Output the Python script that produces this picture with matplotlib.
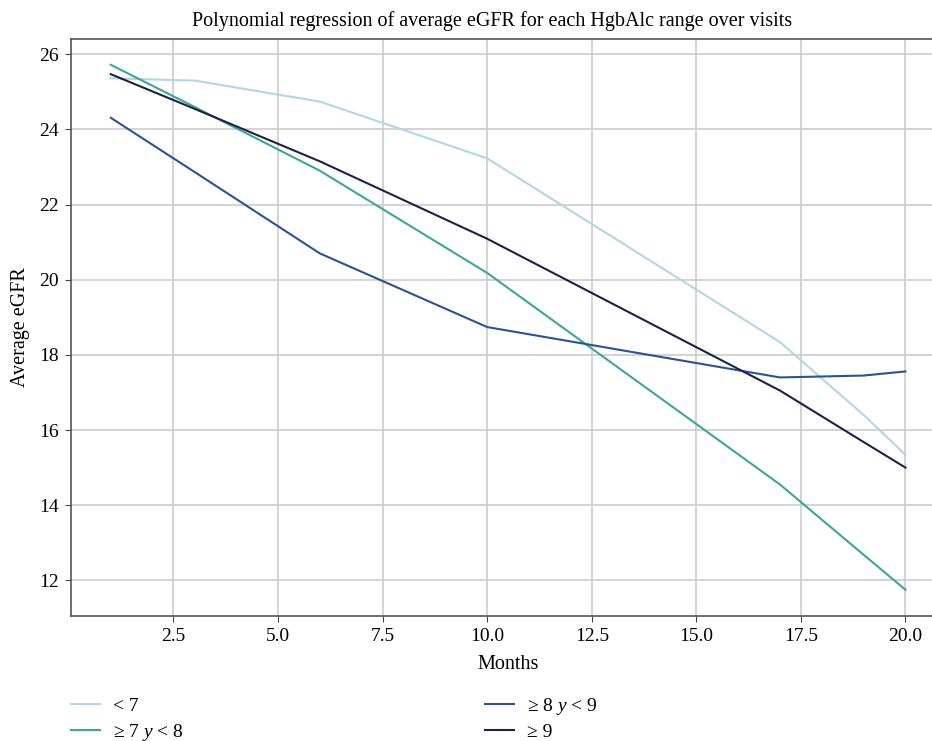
import numpy as np
import matplotlib
matplotlib.use('Agg')
from matplotlib import pyplot as plt

plt.rcParams['font.family'] = ['Liberation Serif', 'DejaVu Serif']
plt.rcParams['mathtext.fontset'] = 'custom'
plt.rcParams['mathtext.rm'] = 'Liberation Serif'
plt.rcParams['mathtext.it'] = 'Liberation Serif:italic'

months = [1, 3, 6, 10, 17, 19, 20]
egfr_lt7 = [25.36, 25.30, 24.74, 23.23, 18.34, 16.40, 15.34]
egfr_7_8 = [25.72, 24.60, 22.90, 20.18, 14.55, 12.68, 11.75]
egfr_8_9 = [24.31, 22.87, 20.70, 18.74, 17.40, 17.45, 17.56]
egfr_ge9 = [25.47, 24.55, 23.15, 21.09, 17.05, 15.68, 15.00]

labels = ['< 7', '≥ 7 $y$ < 8', '≥ 8 $y$ < 9', '≥ 9']
colors = ['#b3d6e4', '#3fa594', '#2b5391', '#1c2149']

fig = plt.figure(figsize=(9.32, 7.41), dpi=100)
ax = fig.add_axes([0.0762, 0.1687, 0.938, 0.7793])

for vals, lab, col in zip([egfr_lt7, egfr_7_8, egfr_8_9, egfr_ge9], labels, colors):
    ax.plot(months, vals, color=col, lw=1.5, label=lab)

ax.set_yticks([12, 14, 16, 18, 20, 22, 24, 26])
ax.set_xticks([2.5, 5.0, 7.5, 10.0, 12.5, 15.0, 17.5, 20.0])
ax.set_xticklabels(['2.5', '5.0', '7.5', '10.0', '12.5', '15.0', '17.5', '20.0'])
ax.grid(True, color='#cccccc', lw=1.2)
ax.set_axisbelow(True)
ax.tick_params(labelsize=14, colors='#444444', labelcolor='black', length=4, pad=5)
for s in ax.spines.values():
    s.set_color('#555555')
    s.set_linewidth(1.2)

ax.set_title('Polynomial regression of average eGFR for each HgbAlc range over visits',
             fontsize=14.5, pad=9, x=0.482)
ax.set_xlabel('Months', fontsize=14.5, labelpad=7)
ax.set_ylabel('Average eGFR', fontsize=14.5, labelpad=6)

fig.legend(loc='upper left', bbox_to_anchor=(0.0762, 0.061), ncol=2, frameon=False,
           fontsize=14, handlelength=1.5, handletextpad=0.65, columnspacing=15.5,
           labelspacing=0.35, borderaxespad=0, borderpad=0)

plt.savefig('out.png', dpi=100)
